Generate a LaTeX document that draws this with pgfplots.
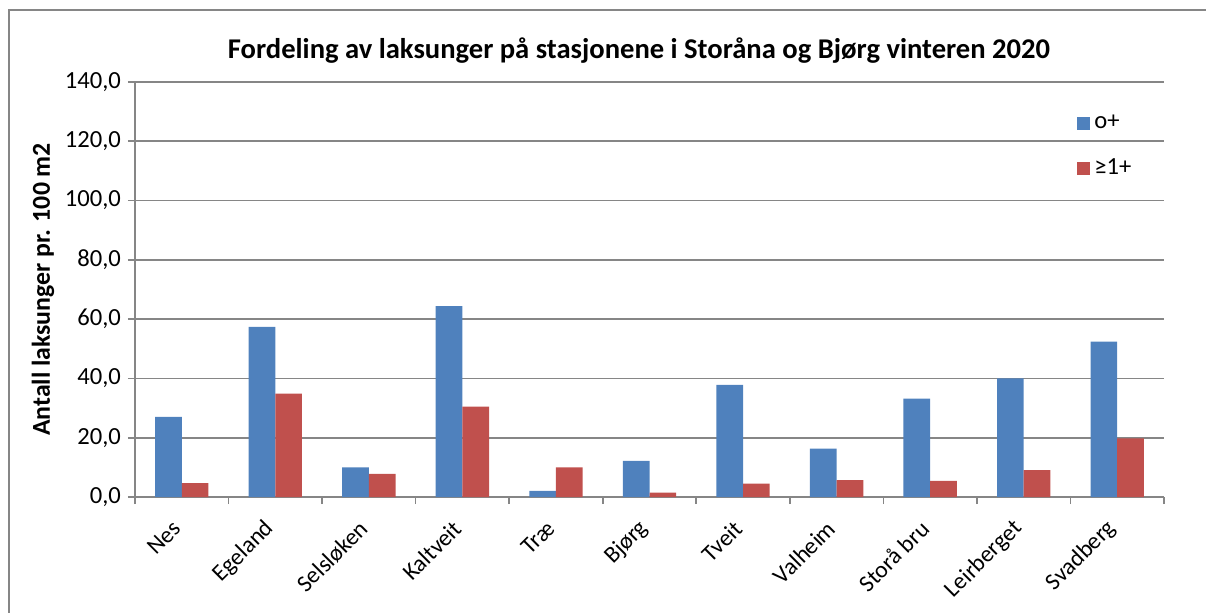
\documentclass[border=0pt]{standalone}
\usepackage{fontspec}
\setmainfont{Carlito}
\usepackage{pgfplots}
\pgfplotsset{compat=1.18}
\definecolor{barblue}{HTML}{4F81BD}
\definecolor{barred}{HTML}{C0504D}
\definecolor{axgray}{HTML}{868686}
\begin{document}
\begin{tikzpicture}
\useasboundingbox (-67.5pt,-57.5pt) rectangle (535.5pt,248.5pt);
\draw[axgray, line width=1pt] (-63pt,-60pt) -- (-63pt,243.5pt) -- (540pt,243.5pt);
\begin{axis}[
  scale only axis,
  width=514.5pt, height=207.5pt,
  ybar=0pt, bar width=13.33pt,
  xmin=-0.5, xmax=10.5,
  ymin=0, ymax=140,
  ytick={0,20,...,140},
  xtick={-0.5,0.5,...,10.5},
  x tick label as interval,
  xticklabels={Nes,Egeland,Selsløken,Kaltveit,Træ,Bjørg,Tveit,Valheim,Storå bru,Leirberget,Svadberg},
  xticklabel style={yshift=-8pt, rotate=45, anchor=east, font=\fontsize{11.8}{13}\selectfont},
  yticklabel style={font=\fontsize{12.3}{14}\selectfont},
  /pgf/number format/.cd, fixed, fixed zerofill, precision=1, use comma, assume math mode=true,
  /pgfplots/.cd,
  axis x line*=bottom, axis y line*=left,
  axis line style={axgray, line width=0.85pt, -},
  tick style={axgray, line width=0.85pt},
  tick align=outside,
  major tick length=3.5pt,
  ymajorgrids,
  grid style={axgray, line width=0.85pt},
  legend style={at={(0.9154,0.9300)}, anchor=north west, draw=none, fill=none,
    font=\fontsize{12.3}{14}\selectfont, row sep=9.5pt, inner sep=0pt,
    /tikz/every even column/.append style={column sep=4.5pt}},
  legend cell align=left,
  legend image code/.code={\fill[#1] (0pt,-3.25pt) rectangle (6.5pt,3.25pt);},
]
\addplot[fill=barblue, draw=none] coordinates {
 (0,27.0) (1,57.4) (2,10.0) (3,64.4) (4,2.1) (5,12.2) (6,37.8) (7,16.3) (8,33.2) (9,40.0) (10,52.4)};
\addlegendentry{o+}
\addplot[fill=barred, draw=none] coordinates {
 (0,4.7) (1,34.9) (2,7.8) (3,30.5) (4,10.0) (5,1.5) (6,4.5) (7,5.7) (8,5.4) (9,9.1) (10,19.8)};
\addlegendentry{≥1+}
\end{axis}
\node[anchor=base, font=\bfseries\fontsize{14.3}{16}\selectfont] at (252pt,219.5pt)
  {Fordeling av laksunger på stasjonene i Storåna og Bjørg vinteren 2020};
\node[rotate=90, font=\bfseries\fontsize{12.9}{14}\selectfont] at (-46pt,103.75pt)
  {Antall laksunger pr. 100 m2};
\end{tikzpicture}
\end{document}
